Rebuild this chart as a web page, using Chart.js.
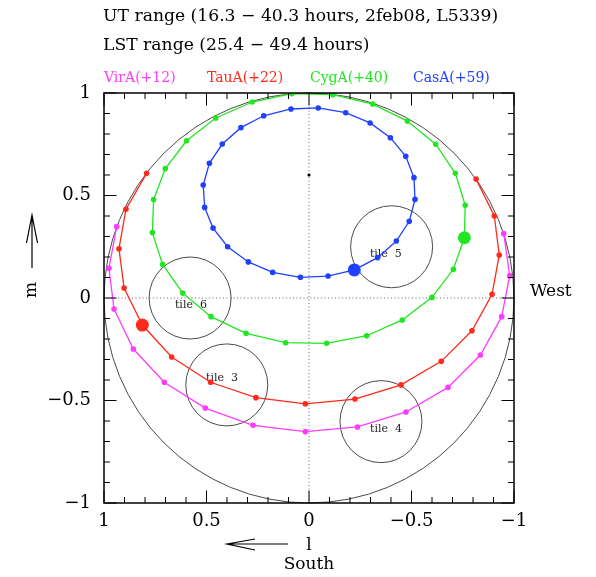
<!DOCTYPE html>
<html>
<head>
<meta charset="utf-8">
<script src="https://cdn.jsdelivr.net/npm/chart.js@4.4.0/dist/chart.umd.min.js"></script>
<style>
  html, body { margin: 0; padding: 0; background: #fff; }
  canvas { display: block; }
</style>
</head>
<body>
<canvas id="chart" width="596" height="577"></canvas>
<script>
"use strict";

// source names and colours, in legend order
const SOURCES = ["VirA(+12)", "TauA(+22)", "CygA(+40)", "CasA(+59)"];
const COLORS = ["#ff3cff", "#ff2a1a", "#22e622", "#2040ff"];
// index of the big marker on each track (-1 = none)
const START_INDEX = [-1, 4, 0, 0];

// tracks in (l, m), one point per hour
const VIRA_L = [0.938, 0.976, 0.951, 0.857, 0.706, 0.506, 0.273, 0.018, -0.236, -0.473, -0.678, -0.836, -0.940, -0.979, -0.950];
const VIRA_M = [0.348, 0.145, -0.054, -0.249, -0.411, -0.537, -0.621, -0.652, -0.629, -0.556, -0.436, -0.278, -0.091, 0.109, 0.314];

const TAUA_L = [0.792, 0.893, 0.927, 0.902, 0.813, 0.670, 0.480, 0.259, 0.018, -0.224, -0.449, -0.645, -0.795, -0.893, -0.928, -0.904, -0.815];
const TAUA_M = [0.608, 0.433, 0.240, 0.049, -0.132, -0.288, -0.411, -0.486, -0.516, -0.493, -0.424, -0.309, -0.160, 0.018, 0.210, 0.400, 0.580];

const CYGA_L = [-0.758, -0.704, -0.600, -0.455, -0.281, -0.086, 0.114, 0.307, 0.478, 0.616, 0.714, 0.764, 0.758, 0.701, 0.597, 0.455, 0.277, 0.084, -0.116, -0.311, -0.480, -0.618, -0.714, -0.762, -0.758];
const CYGA_M = [0.294, 0.140, 0.003, -0.107, -0.184, -0.221, -0.218, -0.172, -0.091, 0.024, 0.164, 0.319, 0.480, 0.631, 0.767, 0.878, 0.956, 0.997, 0.992, 0.946, 0.863, 0.750, 0.608, 0.452, 0.294];

const CASA_L = [-0.221, -0.093, 0.042, 0.177, 0.296, 0.397, 0.468, 0.509, 0.516, 0.486, 0.423, 0.332, 0.221, 0.088, -0.045, -0.179, -0.298, -0.397, -0.472, -0.512, -0.517, -0.489, -0.426, -0.335, -0.221];
const CASA_M = [0.137, 0.107, 0.101, 0.125, 0.176, 0.250, 0.341, 0.442, 0.551, 0.657, 0.751, 0.831, 0.889, 0.922, 0.927, 0.904, 0.854, 0.782, 0.691, 0.587, 0.481, 0.374, 0.278, 0.197, 0.137];

// pole marker
const POLE_L = [0];
const POLE_M = [0.6];

// tiles
const TILE_NAMES = ["tile  5", "tile  6", "tile  3", "tile  4"];
const TILE_L = [-0.403, 0.580, 0.401, -0.351];
const TILE_M = [0.250, 0.000, -0.424, -0.603];
const TILE_R = 0.2;
const TILE_LABEL_L = [-0.375, 0.576, 0.424, -0.376];
const TILE_LABEL_M = [0.213, -0.034, -0.389, -0.639];
const HORIZON_R = 1;

// axes
const TICK_VALUES = [-1, -0.5, 0, 0.5, 1];
const TICK_LABELS = ["\u22121", "\u22120.5", "0", "0.5", "1"];
const MINOR_TICKS = [-0.9, -0.8, -0.7, -0.6, -0.4, -0.3, -0.2, -0.1, 0.1, 0.2, 0.3, 0.4, 0.6, 0.7, 0.8, 0.9];

const TITLE_LINES = ["UT range (16.3 \u2212 40.3 hours, 2feb08, L5339)", "LST range (25.4 \u2212 49.4 hours)"];

const SERIF = '"DejaVu Serif", serif';

function pairs(ls, ms) {
    return ls.map((l, i) => ({x: l, y: ms[i]}));
}

function track(i, ls, ms) {
    const mark = START_INDEX[i];
    return {
        label: SOURCES[i],
        data: pairs(ls, ms),
        showLine: true,
        borderColor: COLORS[i],
        backgroundColor: COLORS[i],
        borderWidth: 1.3,
        pointBorderWidth: 0,
        pointRadius: (c) => (c.dataIndex === mark ? 6.5 : 2.8),
    };
}

function tickLabel(v) {
    const i = TICK_VALUES.findIndex((t) => Math.abs(t - v) < 1e-9);
    return i >= 0 ? TICK_LABELS[i] : "";
}

function setTicks(scale) {
    scale.ticks = TICK_VALUES.map((v) => ({value: v}));
}

const decorPlugin = {
    id: "decor",
    beforeDatasetsDraw(chart) {
        const {ctx, chartArea: a, scales: {x, y}} = chart;
        ctx.save();
        // dotted l=0 / m=0 lines
        ctx.strokeStyle = "#666";
        ctx.lineWidth = 1;
        ctx.setLineDash([1, 2.5]);
        ctx.beginPath();
        ctx.moveTo(x.getPixelForValue(0), a.top);
        ctx.lineTo(x.getPixelForValue(0), a.bottom);
        ctx.moveTo(a.left, y.getPixelForValue(0));
        ctx.lineTo(a.right, y.getPixelForValue(0));
        ctx.stroke();
        ctx.setLineDash([]);

        // horizon and tiles
        ctx.strokeStyle = "#4a4a4a";
        const circle = (l, m, r) => {
            const cx = x.getPixelForValue(l), cy = y.getPixelForValue(m);
            const pr = Math.abs(x.getPixelForValue(l + r) - cx);
            ctx.beginPath();
            ctx.arc(cx, cy, pr, 0, 2 * Math.PI);
            ctx.stroke();
        };
        circle(0, 0, HORIZON_R);
        TILE_L.forEach((l, i) => circle(l, TILE_M[i], TILE_R));

        ctx.fillStyle = "#222";
        ctx.font = "11px " + SERIF;
        ctx.textAlign = "center";
        ctx.textBaseline = "middle";
        TILE_NAMES.forEach((n, i) => {
            ctx.fillText(n, x.getPixelForValue(TILE_LABEL_L[i]), y.getPixelForValue(TILE_LABEL_M[i]));
        });
        ctx.restore();
    },
    afterDraw(chart) {
        const {ctx, chartArea: a, scales: {x, y}} = chart;
        ctx.save();
        // frame
        ctx.strokeStyle = "#000";
        ctx.lineWidth = 1.5;
        ctx.strokeRect(a.left, a.top, a.right - a.left, a.bottom - a.top);

        // inward ticks on all four sides
        ctx.lineWidth = 1;
        ctx.beginPath();
        const tick = (v, len) => {
            const px = x.getPixelForValue(v), py = y.getPixelForValue(v);
            ctx.moveTo(px, a.bottom); ctx.lineTo(px, a.bottom - len);
            ctx.moveTo(px, a.top); ctx.lineTo(px, a.top + len);
            ctx.moveTo(a.left, py); ctx.lineTo(a.left + len, py);
            ctx.moveTo(a.right, py); ctx.lineTo(a.right - len, py);
        };
        TICK_VALUES.forEach((v) => tick(v, 12.5));
        MINOR_TICKS.forEach((v) => tick(v, 6));
        ctx.stroke();

        // title lines
        ctx.fillStyle = "#000";
        ctx.textAlign = "left";
        ctx.textBaseline = "middle";
        ctx.font = "17.2px " + SERIF;
        ctx.fillText(TITLE_LINES[0], 103, 17);
        ctx.fillText(TITLE_LINES[1], 103, 46);

        // coloured legend
        ctx.font = "14px " + SERIF;
        SOURCES.forEach((s, i) => {
            ctx.fillStyle = COLORS[i];
            ctx.fillText(s, 104 + i * 103, 78);
        });

        // axis names and arrows
        ctx.fillStyle = "#000";
        ctx.strokeStyle = "#000";
        ctx.font = "17px " + SERIF;
        ctx.textAlign = "center";
        ctx.fillText("l", 309, 546);
        ctx.fillText("South", 309, 565);
        ctx.textAlign = "left";
        ctx.fillText("West", 530, 292);

        ctx.save();
        ctx.translate(32, 290);
        ctx.rotate(-Math.PI / 2);
        ctx.textAlign = "center";
        ctx.fillText("m", 0, 0);
        ctx.restore();

        ctx.lineWidth = 1.2;
        ctx.beginPath();
        // left arrow for l
        ctx.moveTo(288, 544); ctx.lineTo(227, 544);
        ctx.moveTo(255, 539); ctx.lineTo(227, 544); ctx.lineTo(255, 550);
        // up arrow for m
        ctx.moveTo(32, 268); ctx.lineTo(32, 215);
        ctx.moveTo(26.5, 243); ctx.lineTo(32, 215); ctx.lineTo(37.5, 243);
        ctx.stroke();
        ctx.restore();
    },
};

const axisBase = {
    type: "linear",
    min: -1,
    max: 1,
    grid: {display: false, drawTicks: false},
    border: {display: false},
    afterBuildTicks: setTicks,
    ticks: {
        color: "#000",
        font: {family: SERIF, size: 18},
        callback: tickLabel,
    },
};

new Chart(document.getElementById("chart").getContext("2d"), {
    type: "scatter",
    data: {
        datasets: [
            track(0, VIRA_L, VIRA_M),
            track(1, TAUA_L, TAUA_M),
            track(2, CYGA_L, CYGA_M),
            track(3, CASA_L, CASA_M),
            {
                label: "pole",
                data: pairs(POLE_L, POLE_M),
                backgroundColor: "#000",
                pointBorderWidth: 0,
                pointRadius: 1.6,
            },
        ],
    },
    options: {
        responsive: false,
        animation: false,
        events: [],
        layout: {padding: {left: 44, right: 82, top: 93, bottom: 34}},
        plugins: {legend: {display: false}, tooltip: {enabled: false}},
        scales: {
            x: Object.assign({}, axisBase, {
                reverse: true,
                ticks: Object.assign({}, axisBase.ticks, {padding: 8, maxRotation: 0}),
                afterFit: (s) => { s.height = 40; },
            }),
            y: Object.assign({}, axisBase, {
                ticks: Object.assign({}, axisBase.ticks, {padding: 13}),
                afterFit: (s) => { s.width = 60; },
            }),
        },
    },
    plugins: [decorPlugin],
});
</script>
</body>
</html>
